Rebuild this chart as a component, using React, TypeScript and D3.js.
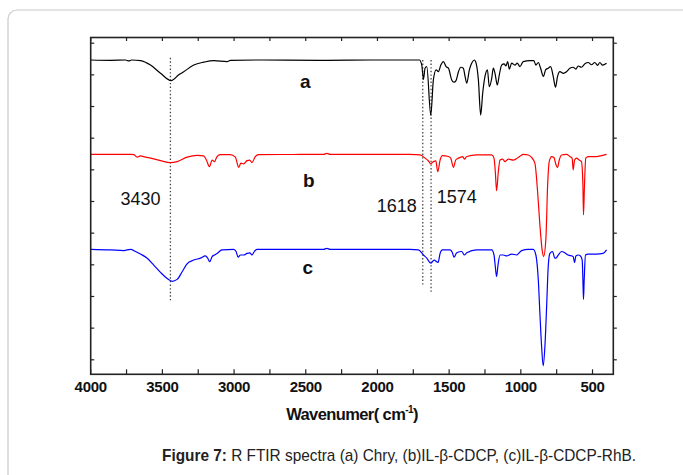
import React from "react";
import * as d3 from "d3";

// Wavenumber (cm-1) / offset transmittance (a.u.)
const specA: [number, number][] = [
  [4000, 9.47], [3860, 9.46], [3757, 9.47], [3734, 9.44], [3715, 9.47], [3652, 9.45], [3583, 9.31],
  [3513, 9.05], [3439, 8.82], [3386, 9.0], [3351, 9.1], [3281, 9.31], [3212, 9.4], [3142, 9.45],
  [3049, 9.42], [3026, 9.46], [2800, 9.47], [2400, 9.46], [2000, 9.47], [1772, 9.47], [1707, 9.47],
  [1691, 9.31], [1679, 8.86], [1668, 9.21], [1656, 9.26], [1628, 7.73], [1610, 8.84], [1591, 9.16],
  [1575, 9.1], [1558, 9.31], [1540, 9.42], [1521, 9.26], [1505, 9.21], [1482, 8.84], [1466, 8.77],
  [1452, 8.82], [1435, 9.1], [1419, 9.24], [1401, 9.21], [1389, 8.95], [1377, 8.74], [1359, 9.16],
  [1343, 9.37], [1324, 9.47], [1312, 9.37], [1296, 8.84], [1280, 7.73], [1266, 8.42], [1250, 8.95],
  [1233, 9.16], [1220, 8.63], [1203, 8.89], [1192, 9.21], [1180, 9.05], [1164, 8.68], [1150, 9.0],
  [1134, 9.31], [1117, 9.35], [1104, 9.28], [1092, 9.42], [1080, 9.18], [1064, 9.37], [1041, 9.31],
  [1025, 9.37], [1006, 9.26], [983, 9.42], [936, 9.45], [909, 9.45], [895, 9.31], [878, 9.39],
  [862, 9.21], [843, 8.95], [827, 9.16], [809, 9.21], [792, 9.26], [774, 8.95], [758, 8.61],
  [744, 8.95], [727, 9.1], [704, 9.05], [681, 9.1], [658, 9.21], [635, 9.24], [616, 9.18],
  [600, 9.28], [577, 9.24], [553, 9.35], [530, 9.39], [507, 9.32], [484, 9.39], [465, 9.3],
  [449, 9.39], [430, 9.31], [402, 9.37],
];

const specB: [number, number][] = [
  [4000, 6.49], [3722, 6.49], [3699, 6.48], [3676, 6.4], [3653, 6.44], [3618, 6.4], [3583, 6.37],
  [3513, 6.29], [3444, 6.23], [3397, 6.26], [3328, 6.4], [3258, 6.46], [3212, 6.44], [3193, 6.31],
  [3172, 6.1], [3153, 6.31], [3137, 6.26], [3119, 6.42], [3096, 6.48], [3026, 6.48], [2991, 6.4],
  [2968, 6.08], [2952, 6.21], [2933, 6.19], [2910, 6.29], [2891, 6.31], [2875, 6.23], [2852, 6.42],
  [2829, 6.48], [2376, 6.49], [2353, 6.52], [2330, 6.49], [1772, 6.49], [1702, 6.47], [1668, 6.37],
  [1644, 6.28], [1628, 6.19], [1610, 6.26], [1593, 6.28], [1579, 5.94], [1563, 6.31], [1547, 6.45],
  [1505, 6.42], [1489, 6.37], [1470, 6.08], [1454, 6.31], [1435, 6.37], [1405, 6.42], [1394, 6.34],
  [1377, 6.42], [1308, 6.47], [1203, 6.47], [1187, 6.37], [1178, 5.94], [1169, 5.34], [1157, 5.94],
  [1145, 6.31], [1127, 6.34], [1110, 6.26], [1087, 6.34], [1052, 6.31], [1018, 6.39], [983, 6.49],
  [948, 6.47], [925, 6.39], [902, 6.21], [883, 5.31], [867, 4.26], [850, 3.42], [841, 3.26],
  [825, 3.84], [813, 5.52], [802, 6.26], [785, 6.42], [769, 6.39], [755, 6.16], [744, 6.07],
  [732, 6.31], [716, 6.47], [681, 6.49], [658, 6.42], [642, 6.37], [635, 6.0], [625, 6.31],
  [611, 6.37], [593, 6.31], [577, 6.26], [567, 5.52], [563, 4.58], [556, 5.52], [547, 6.37],
  [530, 6.42], [472, 6.42], [437, 6.45], [402, 6.49],
];

const specC: [number, number][] = [
  [4000, 3.49], [3861, 3.47], [3769, 3.45], [3722, 3.49], [3687, 3.42], [3653, 3.34], [3606, 3.21],
  [3560, 2.99], [3513, 2.76], [3467, 2.57], [3432, 2.48], [3397, 2.54], [3362, 2.78], [3328, 3.03],
  [3281, 3.15], [3235, 3.21], [3200, 3.28], [3184, 3.21], [3170, 3.1], [3153, 3.26], [3137, 3.31],
  [3119, 3.36], [3084, 3.47], [3003, 3.49], [2986, 3.42], [2972, 3.24], [2956, 3.31], [2933, 3.31],
  [2910, 3.36], [2891, 3.38], [2875, 3.31], [2859, 3.42], [2840, 3.49], [2376, 3.49], [2353, 3.52],
  [2330, 3.49], [1772, 3.49], [1714, 3.47], [1679, 3.31], [1656, 3.21], [1628, 3.05], [1605, 3.15],
  [1577, 3.08], [1563, 3.36], [1547, 3.47], [1493, 3.47], [1477, 3.38], [1466, 3.24], [1447, 3.38],
  [1412, 3.42], [1394, 3.31], [1377, 3.38], [1308, 3.47], [1203, 3.47], [1187, 3.31], [1178, 2.94],
  [1169, 2.63], [1159, 3.0], [1145, 3.31], [1122, 3.31], [1099, 3.28], [1064, 3.34], [1029, 3.31],
  [994, 3.45], [948, 3.49], [913, 3.49], [895, 3.31], [878, 2.52], [867, 1.47], [855, 0.42],
  [844, -0.19], [832, 0.42], [820, 1.68], [809, 2.94], [797, 3.36], [779, 3.42], [762, 3.21],
  [755, 3.21], [739, 3.31], [716, 3.42], [693, 3.38], [670, 3.31], [635, 3.26], [625, 3.07],
  [616, 3.28], [600, 3.31], [584, 3.28], [572, 3.15], [567, 2.52], [563, 1.91], [558, 2.52],
  [549, 3.31], [530, 3.34], [472, 3.34], [426, 3.36], [402, 3.47],
];

const seriesColors = ["#000000", "#ff0000", "#0000ff"];
const seriesLabels = ["a", "b", "c"];
const seriesLabelPos: [number, number][] = [[2540, 8.6], [2520, 5.45], [2522, 2.7]];

// Dotted marker lines: [wavenumber, from, to]
const markerLines: [number, number, number][] = [
  [3444, 9.54, 1.83],
  [1684, 9.47, 2.31],
  [1626, 9.47, 2.1],
];
// Peak annotations: [text, wavenumber, value, anchor]
const peakLabels: [string, number, number, string][] = [
  ["3430", 3792, 4.9, "start"],
  ["1618", 1726, 4.66, "end"],
  ["1574", 1586, 4.96, "start"],
];

const xTicksMajor = [4000, 3500, 3000, 2500, 2000, 1500, 1000, 500];
const xTicksMinor = [3750, 3250, 2750, 2250, 1750, 1250, 750];
const yTicks = [0, 1, 2, 3, 4, 5, 6, 7, 8, 9, 10];

const W = 683;
const H = 475;
const L = 90.7, R = 613.3, T = 37.5, B = 374.3;

export default function App() {
  const x = d3.scaleLinear().domain([4000, 355]).range([L, R]);
  const y = d3.scaleLinear().domain([-0.458, 10.18]).range([B, T]);
  const line = d3
    .line<[number, number]>()
    .x((d) => x(d[0]))
    .y((d) => y(d[1]))
    .curve(d3.curveMonotoneX);
  const specs = [specA, specB, specC];
  const font = "'Liberation Sans', Arial, Helvetica, sans-serif";
  const narrow = "'Liberation Sans Narrow', 'Arial Narrow', 'Liberation Sans', Arial, sans-serif";

  return (
    <svg
      width={W}
      height={H}
      style={{ position: "absolute", left: 0, top: 0, background: "#fff" }}
    >
      <rect x={8} y={10} width={720} height={520} rx={9} fill="#fff" stroke="#c8c8c8" strokeWidth={1.2} />

      {/* dotted marker lines */}
      {markerLines.map(([w, a, b], i) => (
        <line
          key={"m" + i}
          x1={x(w)}
          x2={x(w)}
          y1={y(a)}
          y2={y(b)}
          stroke="#444"
          strokeWidth={1.3}
          strokeDasharray="1.4 2.2"
        />
      ))}

      {/* spectra */}
      {specs.map((s, i) => (
        <path key={"s" + i} d={line(s) || ""} fill="none" stroke={seriesColors[i]} strokeWidth={1.2} strokeLinejoin="round" />
      ))}

      {/* frame */}
      <rect x={L} y={T} width={R - L} height={B - T} fill="none" stroke="#222" strokeWidth={1.6} />

      {/* bottom & top ticks */}
      {[...xTicksMajor, ...xTicksMinor].map((v) => (
        <g key={"xt" + v}>
          <line x1={x(v)} x2={x(v)} y1={B} y2={B - 5} stroke="#222" strokeWidth={1.2} />
          <line x1={x(v)} x2={x(v)} y1={T} y2={T + 3.5} stroke="#222" strokeWidth={1.2} />
        </g>
      ))}
      {/* left & right ticks */}
      {yTicks.map((v) => (
        <g key={"yt" + v}>
          <line x1={L} x2={L + 3.5} y1={y(v)} y2={y(v)} stroke="#222" strokeWidth={1.2} />
          <line x1={R} x2={R + 3.5} y1={y(v)} y2={y(v)} stroke="#222" strokeWidth={1.2} />
        </g>
      ))}

      {/* x tick labels */}
      {xTicksMajor.map((v) => (
        <text
          key={"xl" + v}
          x={x(v)}
          y={392}
          textAnchor="middle"
          fontFamily={font}
          fontWeight="bold"
          fontSize={15}
          fill="#111"
          letterSpacing={-0.3}
        >
          {v}
        </text>
      ))}

      {/* axis title */}
      <text x={(L + R) / 2} y={420} textAnchor="middle" fontFamily={font} fontWeight="bold" fontSize={16.5} fill="#111" letterSpacing={-0.6}>
        Wavenumer( cm
        <tspan fontSize={10} dy={-7}>-1</tspan>
        <tspan dy={7}>)</tspan>
      </text>

      {/* series labels */}
      {seriesLabels.map((t, i) => (
        <text
          key={"sl" + i}
          x={x(seriesLabelPos[i][0])}
          y={y(seriesLabelPos[i][1])}
          fontFamily={font}
          fontWeight="bold"
          fontSize={19}
          fill="#111"
        >
          {t}
        </text>
      ))}

      {/* peak labels */}
      {peakLabels.map(([t, w, v, a], i) => (
        <text key={"pl" + i} x={x(w)} y={y(v)} textAnchor={a as any} fontFamily={font} fontSize={18} fill="#111">
          {t}
        </text>
      ))}

      {/* caption */}
      <text x={162} y={461} fontFamily={narrow} fontSize={17} fill="#222" textLength={474} lengthAdjust="spacingAndGlyphs">
        <tspan fontWeight="bold">Figure 7:</tspan>
        <tspan> R FTIR spectra (a) Chry, (b)IL-β-CDCP, (c)IL-β-CDCP-RhB.</tspan>
      </text>
    </svg>
  );
}
